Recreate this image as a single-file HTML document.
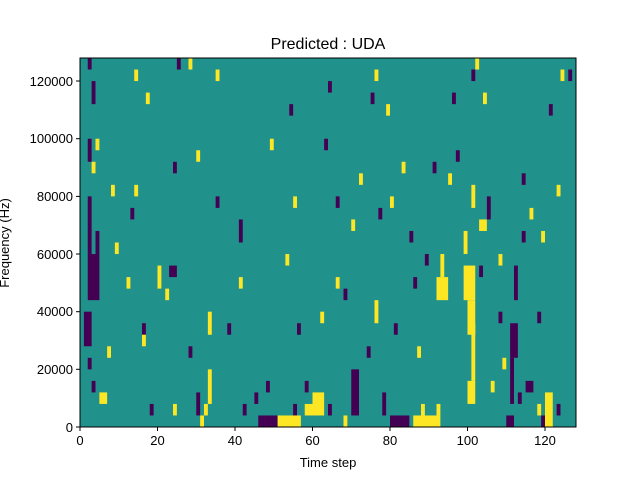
<!DOCTYPE html>
<html><head><style>
body{margin:0;background:#fff;width:640px;height:480px;overflow:hidden;font-family:"Liberation Sans",sans-serif;}
</style></head><body>
<svg width="640" height="480" xmlns="http://www.w3.org/2000/svg" style="position:absolute;left:0;top:0">
<text x="328" y="49" font-size="16" text-anchor="middle" font-family="Liberation Sans">Predicted : UDA</text>
<svg x="80" y="58" width="496" height="369" viewBox="0 0 128 32" preserveAspectRatio="none">
<rect x="0" y="0" width="128" height="32" fill="#21918c"/>
<g fill="#440154">
<rect x="2" y="17" width="3" height="4"/><rect x="2" y="12" width="1" height="5"/><rect x="1" y="22" width="2" height="3"/>
<rect x="2" y="26" width="1" height="1"/><rect x="3" y="28" width="1" height="1"/><rect x="2" y="7" width="1" height="2"/>
<rect x="3" y="2" width="1" height="2"/><rect x="2" y="0" width="1" height="1"/><rect x="4" y="15" width="1" height="2"/>
<rect x="13" y="13" width="1" height="1"/><rect x="16" y="23" width="1" height="1"/><rect x="18" y="30" width="1" height="1"/>
<rect x="23" y="18" width="2" height="1"/><rect x="25" y="0" width="1" height="1"/><rect x="24" y="9" width="1" height="1"/>
<rect x="28" y="25" width="1" height="1"/><rect x="30" y="29" width="1" height="2"/><rect x="35" y="12" width="1" height="1"/>
<rect x="38" y="23" width="1" height="1"/><rect x="41" y="14" width="1" height="2"/><rect x="42" y="30" width="1" height="1"/>
<rect x="46" y="31" width="5" height="1"/><rect x="45" y="29" width="1" height="1"/><rect x="48" y="28" width="1" height="1"/>
<rect x="54" y="4" width="1" height="1"/><rect x="56" y="23" width="1" height="1"/><rect x="58" y="28" width="1" height="1"/>
<rect x="63" y="7" width="1" height="1"/><rect x="64" y="2" width="1" height="1"/><rect x="66" y="12" width="1" height="1"/>
<rect x="68" y="20" width="1" height="1"/><rect x="70" y="27" width="2" height="4"/><rect x="74" y="25" width="1" height="1"/>
<rect x="75" y="3" width="1" height="1"/><rect x="77" y="13" width="1" height="1"/><rect x="78" y="29" width="1" height="2"/>
<rect x="80" y="31" width="5" height="1"/><rect x="81" y="23" width="1" height="1"/><rect x="85" y="15" width="1" height="1"/>
<rect x="86" y="19" width="1" height="1"/><rect x="89" y="17" width="1" height="1"/><rect x="91" y="9" width="1" height="1"/>
<rect x="96" y="3" width="1" height="1"/><rect x="97" y="8" width="1" height="1"/><rect x="101" y="1" width="1" height="1"/>
<rect x="103" y="18" width="1" height="1"/><rect x="105" y="12" width="1" height="2"/><rect x="108" y="22" width="1" height="1"/>
<rect x="111" y="23" width="2" height="3"/><rect x="112" y="18" width="1" height="3"/><rect x="111" y="26" width="1" height="4"/>
<rect x="115" y="28" width="2" height="1"/><rect x="113" y="29" width="1" height="1"/><rect x="114" y="15" width="1" height="1"/>
<rect x="114" y="10" width="1" height="1"/><rect x="110" y="31" width="2" height="1"/><rect x="119" y="31" width="1" height="1"/>
<rect x="121" y="4" width="1" height="1"/><rect x="126" y="1" width="1" height="1"/><rect x="118" y="22" width="1" height="1"/>
<rect x="123" y="30" width="1" height="1"/><rect x="64" y="30" width="1" height="1"/><rect x="55" y="30" width="1" height="1"/>
</g>
<g fill="#fde725">
<rect x="51" y="31" width="6" height="1"/><rect x="60" y="29" width="3" height="2"/><rect x="58" y="30" width="2" height="1"/>
<rect x="86" y="31" width="7" height="1"/><rect x="88" y="30" width="1" height="1"/><rect x="92" y="30" width="1" height="1"/>
<rect x="92" y="19" width="3" height="2"/><rect x="93" y="17" width="1" height="2"/><rect x="99" y="18" width="3" height="3"/>
<rect x="100" y="21" width="2" height="3"/><rect x="101" y="23" width="1" height="5"/><rect x="100" y="28" width="2" height="2"/>
<rect x="103" y="14" width="2" height="1"/><rect x="101" y="11" width="1" height="2"/><rect x="99" y="15" width="1" height="2"/>
<rect x="120" y="29" width="2" height="3"/><rect x="118" y="30" width="1" height="1"/><rect x="5" y="29" width="2" height="1"/>
<rect x="20" y="18" width="1" height="2"/><rect x="22" y="20" width="1" height="1"/><rect x="33" y="22" width="1" height="2"/>
<rect x="33" y="27" width="1" height="3"/><rect x="32" y="30" width="1" height="1"/><rect x="31" y="31" width="1" height="1"/>
<rect x="41" y="19" width="1" height="1"/><rect x="53" y="17" width="1" height="1"/><rect x="49" y="7" width="1" height="1"/>
<rect x="55" y="12" width="1" height="1"/><rect x="35" y="1" width="1" height="1"/><rect x="28" y="0" width="1" height="1"/>
<rect x="30" y="8" width="1" height="1"/><rect x="14" y="1" width="1" height="1"/><rect x="17" y="3" width="1" height="1"/>
<rect x="4" y="7" width="1" height="1"/><rect x="3" y="9" width="1" height="1"/><rect x="8" y="11" width="1" height="1"/>
<rect x="14" y="11" width="1" height="1"/><rect x="9" y="16" width="1" height="1"/><rect x="16" y="24" width="1" height="1"/>
<rect x="7" y="25" width="1" height="1"/><rect x="12" y="19" width="1" height="1"/><rect x="62" y="22" width="1" height="1"/>
<rect x="66" y="19" width="1" height="1"/><rect x="70" y="14" width="1" height="1"/><rect x="72" y="10" width="1" height="1"/>
<rect x="76" y="1" width="1" height="1"/><rect x="79" y="4" width="1" height="1"/><rect x="83" y="9" width="1" height="1"/>
<rect x="80" y="12" width="1" height="1"/><rect x="76" y="21" width="1" height="2"/><rect x="87" y="25" width="1" height="1"/>
<rect x="95" y="10" width="1" height="1"/><rect x="102" y="0" width="1" height="1"/><rect x="104" y="3" width="1" height="1"/>
<rect x="106" y="28" width="1" height="1"/><rect x="108" y="17" width="1" height="1"/><rect x="116" y="13" width="1" height="1"/>
<rect x="119" y="15" width="1" height="1"/><rect x="123" y="11" width="1" height="1"/><rect x="124" y="1" width="1" height="1"/>
<rect x="109" y="26" width="1" height="1"/><rect x="24" y="30" width="1" height="1"/><rect x="68" y="31" width="1" height="1"/>
</g>
</svg>
<rect x="80" y="58" width="496" height="369" fill="none" stroke="#000" stroke-width="1"/>
<g stroke="#000" stroke-width="1">
<line x1="80" y1="427" x2="80" y2="431"/><line x1="157.5" y1="427" x2="157.5" y2="431"/><line x1="235" y1="427" x2="235" y2="431"/>
<line x1="312.5" y1="427" x2="312.5" y2="431"/><line x1="390" y1="427" x2="390" y2="431"/><line x1="467.5" y1="427" x2="467.5" y2="431"/><line x1="545" y1="427" x2="545" y2="431"/>
<line x1="76" y1="427" x2="80" y2="427"/><line x1="76" y1="369.3" x2="80" y2="369.3"/><line x1="76" y1="311.7" x2="80" y2="311.7"/>
<line x1="76" y1="254" x2="80" y2="254"/><line x1="76" y1="196.4" x2="80" y2="196.4"/><line x1="76" y1="138.7" x2="80" y2="138.7"/><line x1="76" y1="81" x2="80" y2="81"/>
</g>
<g font-size="13" text-anchor="middle" font-family="Liberation Sans">
<text x="80" y="445">0</text><text x="157.5" y="445">20</text><text x="235" y="445">40</text><text x="312.5" y="445">60</text>
<text x="390" y="445">80</text><text x="467.5" y="445">100</text><text x="545" y="445">120</text>
<text x="328" y="467">Time step</text>
</g>
<g font-size="13" text-anchor="end" font-family="Liberation Sans">
<text x="73" y="432">0</text><text x="73" y="374">20000</text><text x="73" y="316">40000</text><text x="73" y="259">60000</text>
<text x="73" y="201">80000</text><text x="73" y="143">100000</text><text x="73" y="86">120000</text>
</g>
<text transform="translate(9,243) rotate(-90)" font-size="13" text-anchor="middle" font-family="Liberation Sans">Frequency (Hz)</text>
</svg>
</body></html>
